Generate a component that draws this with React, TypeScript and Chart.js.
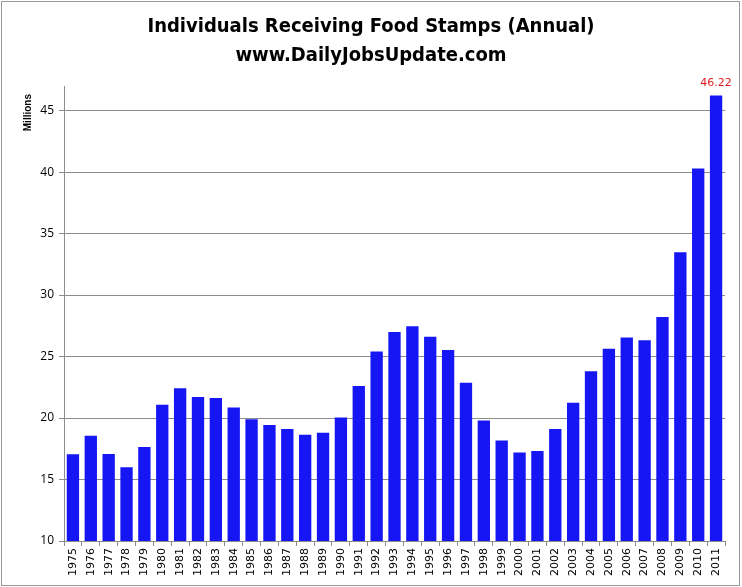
import { useEffect, useRef } from "react";
import { Chart, registerables } from "chart.js";

Chart.register(...registerables);

// Fiscal-year participation in the food stamp program, millions of people
const years = [
  "1975", "1976", "1977", "1978", "1979", "1980", "1981", "1982", "1983", "1984",
  "1985", "1986", "1987", "1988", "1989", "1990", "1991", "1992", "1993", "1994",
  "1995", "1996", "1997", "1998", "1999", "2000", "2001", "2002", "2003", "2004",
  "2005", "2006", "2007", "2008", "2009", "2010", "2011",
];
const recipients = [
  17.06, 18.55, 17.08, 16.0, 17.65, 21.08, 22.43, 21.72, 21.62, 20.85,
  19.9, 19.43, 19.11, 18.65, 18.8, 20.05, 22.6, 25.4, 27.0, 27.47,
  26.6, 25.54, 22.86, 19.79, 18.18, 17.19, 17.32, 19.1, 21.25, 23.81,
  25.63, 26.55, 26.32, 28.22, 33.49, 40.3, 46.22,
];
const yTicks = [10, 15, 20, 25, 30, 35, 40, 45];
const titleLines = ["Individuals Receiving Food Stamps (Annual)", "www.DailyJobsUpdate.com"];
const yAxisTitle = "Millions";

const BAR_BLUE = "#1616f4";
const GRID_GRAY = "#8c8c8c";
const TITLE_FONT = "bold 20px 'Liberation Sans Narrow', 'DejaVu Sans Condensed', Roboto, sans-serif";

// Frame, two-line heading, axis caption and the label on the latest bar
const decorations = {
  id: "decorations",
  afterDraw(chart: Chart) {
    const { ctx, width, height } = chart;
    ctx.save();

    ctx.strokeStyle = "#9a9a9a";
    ctx.lineWidth = 1;
    ctx.strokeRect(1.5, 1.5, width - 4, height - 3);

    ctx.fillStyle = "#000";
    ctx.font = TITLE_FONT;
    ctx.textAlign = "center";
    ctx.textBaseline = "middle";
    ctx.fillText(titleLines[0], width / 2, 27);
    ctx.fillText(titleLines[1], width / 2, 56);

    ctx.save();
    ctx.translate(28, 94);
    ctx.rotate(-Math.PI / 2);
    ctx.font = "bold 10px 'Liberation Sans', Arial, sans-serif";
    ctx.textAlign = "right";
    ctx.textBaseline = "middle";
    ctx.fillText(yAxisTitle, 0, 0);
    ctx.restore();

    const meta = chart.getDatasetMeta(0);
    const last = meta.data[meta.data.length - 1] as any;
    if (last) {
      ctx.fillStyle = "#e01b1b";
      ctx.font = "11px 'DejaVu Sans', Verdana, sans-serif";
      ctx.textAlign = "center";
      ctx.textBaseline = "middle";
      ctx.fillText(recipients[recipients.length - 1].toFixed(2), last.x, last.y - 12);
    }
    ctx.restore();
  },
};

export default function App() {
  const canvasRef = useRef<HTMLCanvasElement | null>(null);

  useEffect(() => {
    const canvas = canvasRef.current;
    if (!canvas) return;
    const chart = new Chart(canvas, {
      type: "bar",
      data: {
        labels: years,
        datasets: [
          {
            data: recipients,
            backgroundColor: BAR_BLUE,
            borderWidth: 0,
            categoryPercentage: 0.69,
            barPercentage: 1,
          },
        ],
      },
      options: {
        responsive: false,
        animation: false,
        devicePixelRatio: 1,
        layout: { padding: { top: 86, right: 17, left: 0, bottom: 0 } },
        plugins: {
          legend: { display: false },
          title: { display: false },
          tooltip: { enabled: false },
        },
        scales: {
          x: {
            offset: true,
            grid: {
              display: true,
              offset: true,
              drawOnChartArea: false,
              drawTicks: true,
              tickLength: 5,
              color: GRID_GRAY,
            },
            border: { display: true, color: GRID_GRAY },
            ticks: {
              autoSkip: false,
              minRotation: 90,
              maxRotation: 90,
              padding: 2,
              color: "#000",
              font: { family: "'DejaVu Sans', Verdana, sans-serif", size: 11 },
            },
            afterFit(scale: any) {
              scale.height = 46;
            },
          },
          y: {
            min: 10,
            max: 47,
            grid: {
              color: GRID_GRAY,
              tickLength: 5,
              drawTicks: true,
            },
            border: { display: true, color: GRID_GRAY },
            ticks: {
              padding: 5,
              color: "#000",
              font: { family: "'Open Sans', 'Liberation Sans', sans-serif", size: 12 },
            },
            afterBuildTicks(scale: any) {
              scale.ticks = yTicks.map((v) => ({ value: v }));
            },
            afterFit(scale: any) {
              scale.width = 64;
            },
          },
        },
      },
      plugins: [decorations],
    });
    return () => chart.destroy();
  }, []);

  return (
    <div style={{ position: "fixed", left: 0, top: 0, width: 742, height: 587, background: "#fff" }}>
      <canvas ref={canvasRef} width={742} height={587} style={{ display: "block", width: 742, height: 587 }} />
    </div>
  );
}
